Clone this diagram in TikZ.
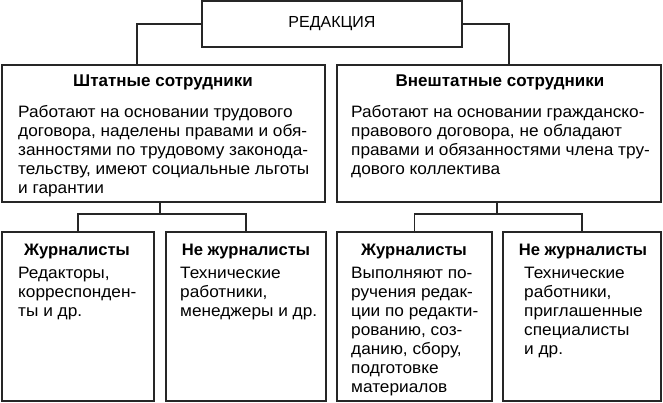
\documentclass[tikz,border=0pt]{standalone}
\usepackage{fontspec}
\setmainfont{Liberation Sans}
\newfontfamily\bodyf[FakeStretch=1.045]{Liberation Sans}
\usetikzlibrary{calc}
\newcommand\lns[1]{\vtop{\baselineskip=18.8pt\lineskiplimit=-10pt #1}}
\newcommand\lnb[1]{\vtop{\baselineskip=19pt\lineskiplimit=-10pt #1}}
\newcommand\li[1]{\hbox{#1}}
\begin{document}
\begin{tikzpicture}[x=1pt,y=-1pt,
  box/.style={draw=black!85,line width=1.2pt,inner sep=0pt,fill=white},
  ttl/.style={font=\bfseries\fontsize{17pt}{20pt}\selectfont,anchor=base,inner sep=0pt},
  sttl/.style={font=\bfseries\fontsize{16.6pt}{19pt}\selectfont,anchor=base,inner sep=0pt},
  bodytxt/.style={font=\bodyf\fontsize{16.5pt}{19pt}\selectfont,anchor=base west,inner sep=0pt},
  conn/.style={draw=black!85,line width=1.2pt}]
\useasboundingbox (0,0) rectangle (663,403);
% boxes
\node[box,minimum width=260pt,minimum height=46pt] (top) at (332,24) {};
\node[box,minimum width=323pt,minimum height=137pt] (bigL) at (163.5,133.5) {};
\node[box,minimum width=324pt,minimum height=137pt] (bigR) at (499,133.5) {};
\node[box,minimum width=152pt,minimum height=169pt] (b1) at (78,316.5) {};
\node[box,minimum width=160pt,minimum height=169pt] (b2) at (246,316.5) {};
\node[box,minimum width=155pt,minimum height=169pt] (b3) at (414.5,316.5) {};
\node[box,minimum width=158pt,minimum height=169pt] (b4) at (582,316.5) {};
% connectors
\coordinate (jL) at (160,214);
\coordinate (jR) at (497,214);
\draw[conn] (top.west) -| ([xshift=-26.5pt]bigL.north);
\draw[conn] (top.east) -| ([xshift=10pt]bigR.north);
\draw[conn] (bigL.south -| jL) -- (jL);
\draw[conn] (b1.north) -- (b1.north |- jL) -- (b2.north |- jL) -- (b2.north);
\draw[conn] (bigR.south -| jR) -- (jR);
\draw[conn] (b3.north) -- (b3.north |- jR) -- (b4.north |- jR) -- (b4.north);
% texts
\node[font=\fontsize{16pt}{19pt}\selectfont,anchor=base,inner sep=0pt] (tt) at (332,27.5) {РЕДАКЦИЯ};
\node[ttl] (tL) at (163,87) {Штатные сотрудники};
\node[ttl] (tR) at (500,87) {Внештатные сотрудники};
\node[bodytxt] (xL) at (18,118) {\lns{\li{Работают на основании трудового}\li{договора, наделены правами и обя-}\li{занностями по трудовому законода-}\li{тельству, имеют социальные льготы}\li{и гарантии}}};
\node[bodytxt] (xR) at (351,118) {\lns{\li{Работают на основании гражданско-}\li{правового договора, не обладают}\li{правами и обязанностями члена тру-}\li{дового коллектива}}};
\node[sttl] (t1) at (77,255) {Журналисты};
\node[sttl] (t2) at (246,255) {Не журналисты};
\node[sttl] (t3) at (414,255) {Журналисты};
\node[sttl] (t4) at (583,255) {Не журналисты};
\node[bodytxt] (x1) at (18,278) {\lnb{\li{Редакторы,}\li{корреспонден-}\li{ты и др.}}};
\node[bodytxt] (x2) at (180,278) {\lnb{\li{Технические}\li{работники,}\li{менеджеры и др.}}};
\node[bodytxt] (x3) at (351,278) {\lnb{\li{Выполняют по-}\li{ручения редак-}\li{ции по редакти-}\li{рованию, соз-}\li{данию, сбору,}\li{подготовке}\li{материалов}}};
\node[bodytxt] (x4) at (524,278) {\lnb{\li{Технические}\li{работники,}\li{приглашенные}\li{специалисты}\li{и др.}}};
\end{tikzpicture}
\end{document}
